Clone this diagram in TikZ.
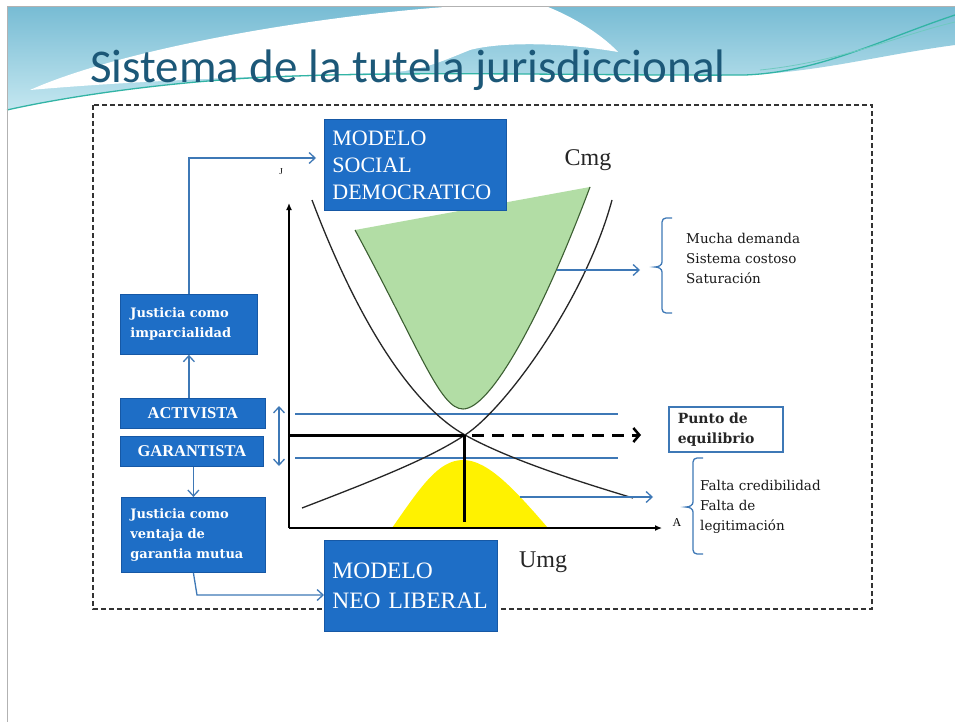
\documentclass[tikz,border=0pt]{standalone}
\usepackage{fontspec}
\setmainfont{Liberation Serif}
\newfontfamily\titlefont{Carlito}
\newfontfamily\dvs{DejaVu Serif}
\usetikzlibrary{arrows.meta,calc}
\definecolor{boxblue}{RGB}{30,110,198}
\definecolor{boxedge}{RGB}{22,88,165}
\definecolor{linkblue}{RGB}{62,120,182}
\definecolor{titlecol}{RGB}{28,88,120}
\definecolor{greenfill}{RGB}{178,221,165}
\definecolor{greenedge}{RGB}{60,95,50}
\definecolor{skyA}{RGB}{120,188,212}
\definecolor{skyB}{RGB}{196,231,240}
\definecolor{tealline}{RGB}{50,180,165}
\begin{document}
\begin{tikzpicture}[x=1pt,y=-1pt,
  bluebox/.style={draw=boxedge, fill=boxblue, text=white, inner sep=0pt, line width=0.8pt, anchor=north west},
  linkarrow/.style={draw=linkblue, line width=1.3pt, -{Straight Barb[length=6pt,width=11pt]}},
  bluerule/.style={draw=linkblue, line width=1.3pt},
  curveline/.style={draw=black!85, line width=1.3pt},
  axisline/.style={draw=black, line width=1.3pt, -{Latex[length=7pt,width=6pt]}},
  eqline/.style={draw=black, line width=3pt},
  smalltext/.style={font=\dvs\fontsize{13.5}{20}\selectfont, text=black!90, align=left, anchor=west, inner sep=0pt}
]
\useasboundingbox (0,0) rectangle (955,722);
\fill[white] (0,0) rectangle (955,722);
% sky decoration
\shade[top color=skyA, bottom color=skyB] (7,7) -- (955,7) -- (955,45) .. controls (880,55) and (820,72) .. (745,75) .. controls (600,76) and (400,70) .. (250,78) .. controls (150,84) and (60,98) .. (7,110) -- cycle;
\fill[white] (30,90) .. controls (120,50) and (300,18) .. (445,7) -- (548,7) .. controls (580,20) and (605,38) .. (618,52) .. controls (560,42) and (500,42) .. (470,50) .. controls (440,62) and (420,72) .. (380,73) .. controls (250,76) and (120,82) .. (30,90) -- cycle;
\draw[tealline, line width=1.3pt] (7,110) .. controls (60,98) and (150,84) .. (250,78) .. controls (400,70) and (600,76) .. (745,75) .. controls (820,72) and (880,40) .. (955,15);
\draw[tealline!70!white, line width=0.8pt] (760,70) .. controls (840,62) and (900,35) .. (955,22);
\draw[gray!60, line width=0.8pt] (7,722) -- (7,6) -- (955,6);
% title
\node[anchor=base west, inner sep=0pt, font=\titlefont\fontsize{47}{50}\selectfont, text=titlecol] (title) at (90,83) {Sistema de la tutela jurisdiccional};
% dashed frame
\draw[black!80, line width=1.3pt, dash pattern=on 5pt off 3pt] (93,105) rectangle (872,609);
% regions
\fill[greenfill] (355,230) .. controls (420,350) and (440,409) .. (463,409) .. controls (490,409) and (540,320) .. (590,187) -- cycle;
\draw[greenedge, line width=1.1pt] (355,230) .. controls (420,350) and (440,409) .. (463,409) .. controls (490,409) and (540,320) .. (590,187);
\fill[yellow] (392,528) .. controls (420,488) and (438,460) .. (463,460) .. controls (488,460) and (515,490) .. (548,528) -- cycle;
% blue horizontal rules
\coordinate (h1a) at (295,414); \coordinate (h1b) at (618,414);
\coordinate (h2a) at (295,458); \coordinate (h2b) at (618,458);
\draw[bluerule] (h1a) -- (h1b);
\draw[bluerule] (h2a) -- (h2b);
% curves
\draw[curveline] (312,200) .. controls (365,340) and (420,410) .. (465,435) .. controls (510,460) and (580,482) .. (633,498);
\draw[curveline] (302,508) .. controls (380,478) and (430,458) .. (465,435) .. controls (505,409) and (585,300) .. (612,200);
% axes
\coordinate (O) at (289,528); \coordinate (Ytop) at (289,203); \coordinate (Xend) at (662,528);
\draw[axisline] (O) -- (Ytop);
\draw[axisline] (O) -- (Xend);
\node[inner sep=1pt, font=\fontsize{9}{10}\selectfont] (J) at (281,172) {J};
\node[inner sep=2pt, fill=white, font=\fontsize{12}{13}\selectfont] (A) at (677,523) {A};
% equilibrium
\coordinate (EL) at (290,435); \coordinate (E) at (464,435); \coordinate (EB) at (464,522);
\draw[eqline] (EL) -- (E);
\draw[eqline] (E) -- (EB);
\coordinate (DA) at (472,435); \coordinate (DB) at (641,435);
\draw[black, line width=3pt, dash pattern=on 12pt off 8pt, -{Straight Barb[length=6pt,width=14pt,line width=2.5pt]}] (DA) -- (DB);
% labels
\node[font=\fontsize{24}{26}\selectfont, text=black!85] (cmg) at (588,160) {Cmg};
\node[font=\fontsize{24}{26}\selectfont, text=black!85] (umg) at (543,562) {Umg};
% boxes
\node[bluebox, minimum width=182pt, minimum height=91pt, text width=166pt, align=left, font=\fontsize{22}{27}\selectfont] (msd) at (324,119) {MODELO\\SOCIAL\\DEMOCRATICO};
\node[bluebox, minimum width=173pt, minimum height=91pt, text width=157pt, align=left, font=\fontsize{23.5}{30}\selectfont] (nl) at (324,540) {MODELO\\NEO LIBERAL};
\node[bluebox, minimum width=137pt, minimum height=60pt, text width=117pt, align=left, font=\dvs\bfseries\fontsize{13}{20}\selectfont] (imp) at (120,294) {Justicia como\\imparcialidad};
\node[bluebox, minimum width=145pt, minimum height=30pt, align=center, font=\bfseries\fontsize{16.5}{20}\selectfont] (act) at (120,398) {ACTIVISTA};
\node[bluebox, minimum width=143pt, minimum height=30pt, align=center, font=\bfseries\fontsize{16.5}{20}\selectfont] (gar) at (120,436) {GARANTISTA};
\node[bluebox, minimum width=144pt, minimum height=75pt, text width=126pt, align=left, font=\dvs\bfseries\fontsize{13}{20}\selectfont] (ven) at (121,497) {Justicia como\\ventaja de\\garantia mutua};
\node[draw=linkblue, line width=1.5pt, fill=white, anchor=north west, inner sep=0pt, minimum width=114pt, minimum height=45pt, text width=96pt, align=left, text=black!85, font=\dvs\bfseries\fontsize{14}{20}\selectfont] (punto) at (668,406) {Punto de\\equilibrio};
% connectors
\coordinate (c1) at (316,158);
\draw[linkarrow] (imp.north) |- (c1);
\draw[linkarrow] (act.north -| imp.south) -- (imp.south);
\draw[linkarrow] (gar.south -| ven.north) -- (ven.north);
\coordinate (k1) at (197,595);
\draw[linkarrow] (ven.south) -- (k1) -- (k1 -| nl.west);
\coordinate (d1) at (279,406); \coordinate (d2) at (279,466);
\draw[linkarrow, {Straight Barb[length=6pt,width=11pt]}-{Straight Barb[length=6pt,width=11pt]}] (d1) -- (d2);
\coordinate (g1) at (557,270); \coordinate (g1e) at (640,270);
\draw[linkarrow] (g1) -- (g1e);
\coordinate (y1) at (520,497); \coordinate (y1e) at (653,497);
\draw[linkarrow] (y1) -- (y1e);
% braces
\draw[linkblue, line width=1.3pt] (672,218) -- (666,218) to[out=180,in=90] (662,222) -- (662,262) to[out=-90,in=0] (655,267) to[out=0,in=90] (662,272) -- (662,309) to[out=-90,in=180] (666,313) -- (672,313);
\draw[linkblue, line width=1.3pt] (703,458) -- (697,458) to[out=180,in=90] (693,462) -- (693,502) to[out=-90,in=0] (686,507) to[out=0,in=90] (693,512) -- (693,550) to[out=-90,in=180] (697,554) -- (703,554);
% side texts
\node[smalltext] (t1) at (686,258) {Mucha demanda\\Sistema costoso\\Saturación};
\node[smalltext] (t2) at (700,507) {Falta credibilidad\\Falta de\\legitimación};
\end{tikzpicture}
\end{document}
